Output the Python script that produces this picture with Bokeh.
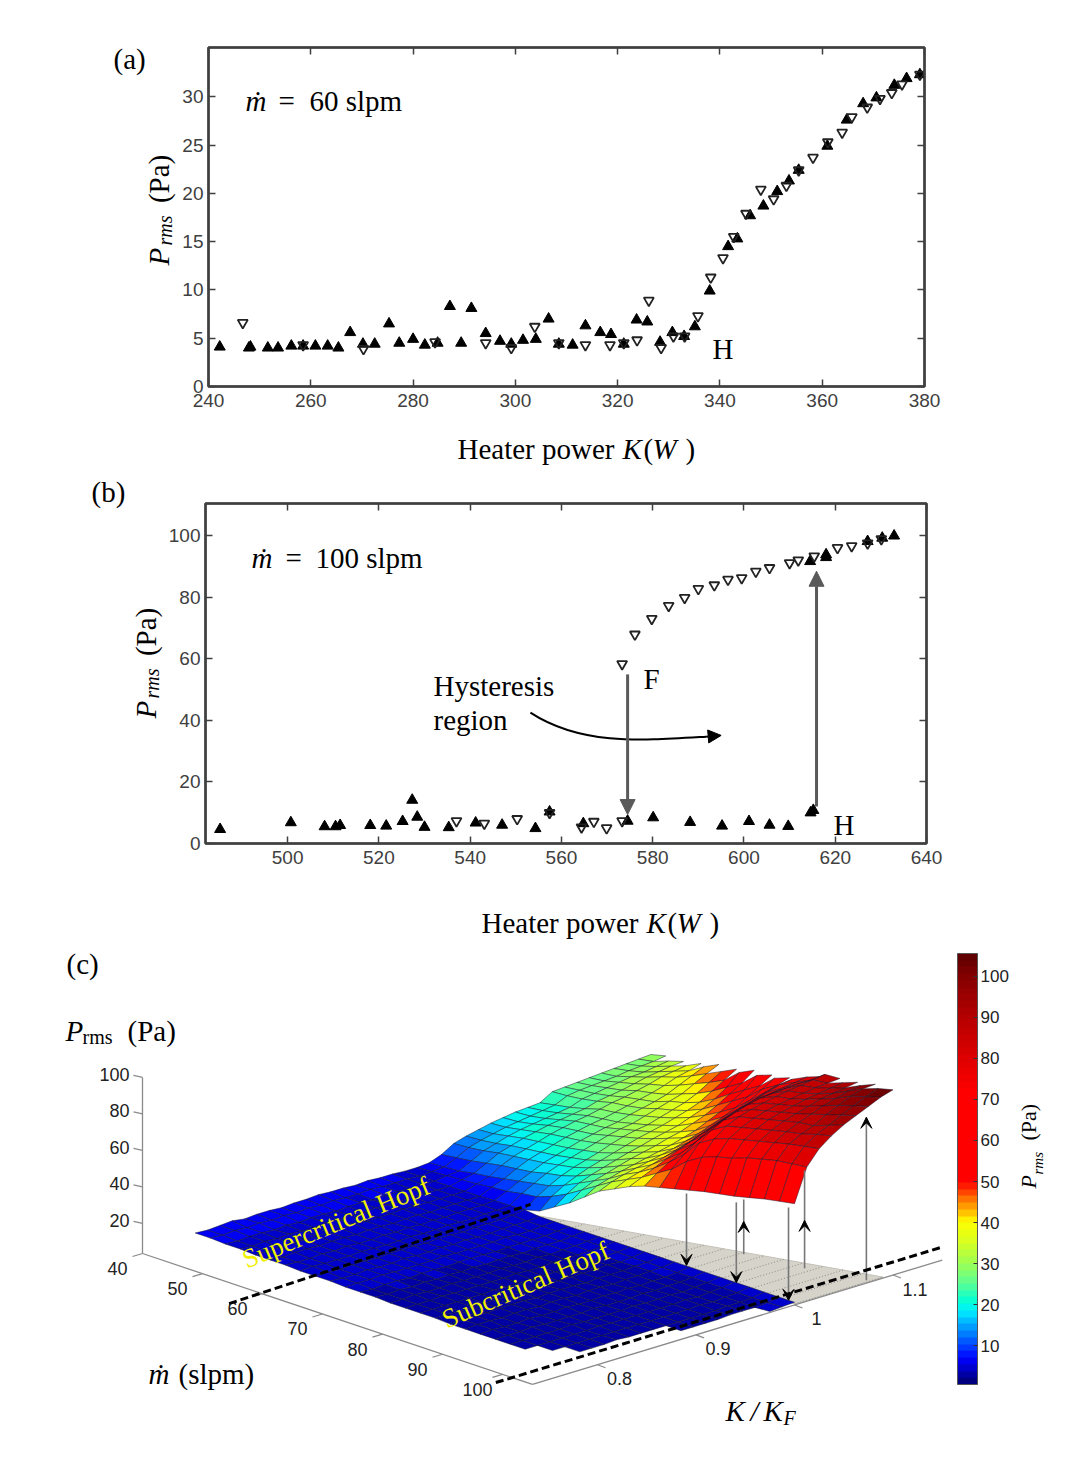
import numpy as np
from math import pi
from bokeh.plotting import figure, ColumnDataSource
from bokeh.models import (Range1d, LinearAxis, FixedTicker, Label, Arrow, NormalHead, VeeHead,
                          ColorBar, LinearColorMapper, CustomJSTickFormatter)
from bokeh.layouts import column
from bokeh.core.properties import value
from bokeh.transform import transform
from bokeh.embed import file_html
from bokeh.resources import INLINE

SERIF = "Liberation Serif"
SANS = "Liberation Sans"
PAGE_W, PAGE_H = 1091, 1470

# (a) 60 slpm
a_up_K = [242.2, 247.9, 248.2, 251.6, 253.6, 256.2, 258.5, 260.9, 263.3, 265.4, 267.7, 270.2, 272.5, 275.3, 277.3,
          280, 282.3, 284.8, 287.2, 289.4, 291.4, 294.2, 297, 299.2, 301.5, 304, 306.5, 308.5, 311.2, 313.7, 316.6,
          318.7, 321.2, 323.7, 325.8, 328.3, 330.7, 333, 335.1, 338, 341.6, 343.4, 345.9, 348.5, 351.2, 353.5,
          355.4, 361, 364.8, 368, 370.6, 374.1, 376.5, 379.1]
a_up_P = [4.1, 4.0, 4.1, 4.0, 4.0, 4.2, 4.2, 4.2, 4.2, 4.0, 5.6, 4.4, 4.4, 6.5, 4.5,
          4.9, 4.3, 4.5, 8.3, 4.5, 8.1, 5.5, 4.7, 4.4, 4.8, 4.9, 7.0, 4.4, 4.3, 6.3, 5.6,
          5.4, 4.4, 6.9, 6.7, 4.6, 5.6, 5.2, 6.2, 9.9, 14.5, 15.3, 17.7, 18.7, 20.2, 21.3,
          22.4, 24.9, 27.6, 29.3, 29.9, 31.2, 31.9, 32.3]
a_down_K = [246.7, 258.5, 270.3, 284.3, 294.2, 299.2, 303.8, 308.5, 313.7, 318.5, 321.2, 323.8, 326.1, 328.5, 330.9,
            333.1, 335.7, 338.2, 340.6, 342.7, 345.1, 348, 350.5, 353, 355.4, 358.2, 361.1, 363.9, 365.8, 368.8,
            371.3, 373.6, 375.6, 379.1]
a_down_P = [6.6, 4.3, 3.9, 4.6, 4.5, 4.0, 6.2, 4.5, 4.3, 4.3, 4.5, 4.8, 8.9, 4.0, 5.2,
            5.2, 7.3, 11.3, 13.3, 15.5, 17.9, 20.4, 19.4, 20.8, 22.4, 23.7, 25.3, 26.3, 27.9, 28.9,
            29.8, 30.4, 31.3, 32.3]
a_x_ticks = [240, 260, 280, 300, 320, 340, 360, 380]
a_y_ticks = [0, 5, 10, 15, 20, 25, 30]

# (b) 100 slpm
b_up_K = [485.2, 500.7, 508.1, 510.5, 511.5, 518.1, 521.6, 525.2, 527.3, 528.4, 530, 535.3, 541.2, 547, 554.3, 557.4,
          564.8, 574.5, 580.1, 588.2, 595.2, 601.1, 605.6, 609.7, 614.6, 615.2, 618, 618, 614.5, 627.1, 630.3, 632.9]
b_up_P = [4.6, 6.8, 5.5, 5.5, 5.9, 5.9, 5.7, 7.2, 14.1, 8.6, 5.3, 5.2, 6.7, 6.0, 4.9, 10.3,
          6.5, 7.3, 8.4, 6.9, 5.7, 7.2, 6.0, 5.6, 10.0, 10.8, 93.8, 92.9, 91.6, 98.1, 99.2, 99.9]
b_down_K = [537, 543.1, 550.3, 557.4, 564.4, 567.1, 569.9, 573.3, 573.3, 576.1, 579.8, 583.5, 587, 590, 593.5, 596.5,
            599.5, 602.6, 605.6, 610, 611.9, 615.4, 620.5, 623.6, 627.1, 630.1]
b_down_P = [7.3, 6.5, 8.0, 10.0, 5.3, 7.1, 5.0, 7.3, 58.3, 67.9, 73, 77.2, 79.8, 82.7, 83.9, 85.7,
            86.2, 88.3, 89.5, 91.1, 92, 93.3, 96, 96.6, 97.5, 98.9]
b_x_ticks = [500, 520, 540, 560, 580, 600, 620, 640]
b_y_ticks = [0, 20, 40, 60, 80, 100]

# (c) surface, rows are slpm, columns are K/KF
m_rows = [40, 42.5, 45, 47.5, 50, 52.5, 55, 57.5, 60, 62.5, 65, 67.5, 70, 72.5, 75, 77.5, 80, 82.5, 85, 87.5, 90, 92.5,
          95, 97.5, 100, 102.5, 105]
k_step = 0.0125
lower_k0 = 0.775
lower_start = [0, 1, 0, 1, 1, 0, 1, 0, 1, 0, 1, 1, 0, 1, 0, 1, 1, 0, 1, 0, 1, 1, 0, 2, 3, 10, 16]
lower_z = [
    [6, 6, 5.5, 6, 6.5, 5.5, 6, 6, 5.5, 6, 6, 6.5, 6, 6, 5.5, 6, 5.5, 5.5, 5],
    [6, 5.5, 6, 5.5, 6, 5.5, 6, 5.5, 6, 5.5, 6, 5.5, 5.5, 6, 5.5, 5.5, 5.5, 5],
    [5.5, 5.5, 5, 5.5, 5.5, 5, 5.5, 5, 5.5, 5.5, 5, 5.5, 5.5, 5, 5.5, 5.5, 5, 5.5, 5],
    [5.5, 5, 5.5, 5, 5.5, 5, 5, 5.5, 5, 5.5, 5, 5.5, 5, 5, 5.5, 5, 5, 5],
    [5, 5, 5, 5.5, 5, 5, 5, 5, 5.5, 5, 5, 5, 5.5, 5, 5, 5, 5, 5],
    [5, 5, 4.5, 5, 5, 4.5, 5, 5, 4.5, 5, 5, 4.5, 5, 5, 4.5, 5, 5, 5, 5],
    [5, 4.5, 4.5, 5, 4.5, 5, 4.5, 4.5, 5, 4.5, 5, 4.5, 5, 4.5, 5, 5, 5, 5.5],
    [4.5, 4.5, 5, 4.5, 4.5, 4.5, 5, 4.5, 4.5, 4.5, 5, 4.5, 4.5, 5, 4.5, 4.5, 5, 5, 5.5],
    [4.5, 4.5, 4, 4.5, 4.5, 4, 4.5, 4.5, 4.5, 4, 4.5, 4.5, 4, 4.5, 4.5, 4.5, 5, 6],
    [4, 4.5, 4, 4, 4.5, 4, 4, 4.5, 4, 4, 4.5, 4, 4.5, 4, 4, 4.5, 4.5, 4.5, 5],
    [4, 4, 4, 4.5, 4, 4, 4, 4, 4.5, 4, 4, 4, 4, 4.5, 4, 4, 4.5, 5],
    [4, 3.5, 4, 4, 3.5, 4, 4, 3.5, 4, 4, 4, 3.5, 4, 4, 4, 4, 4.5, 5],
    [3.5, 4, 3.5, 4, 3.5, 4, 3.5, 4, 3.5, 4, 3.5, 4, 4, 3.5, 4, 4, 4, 4.5, 5],
    [3.5, 3.5, 4, 3.5, 3.5, 4, 3.5, 3.5, 3.5, 4, 3.5, 3.5, 4, 3.5, 4, 4, 4.5, 5],
    [3.5, 3.5, 3.5, 3.5, 4, 3.5, 3.5, 3.5, 3.5, 3.5, 4, 3.5, 3.5, 4, 3.5, 4, 4, 4.5, 5],
    [3.5, 3.5, 3.5, 3.5, 3.5, 3.5, 4, 3.5, 3.5, 3.5, 3.5, 3.5, 4, 3.5, 3.5, 4, 4, 5],
    [3.5, 3.5, 3, 3.5, 3.5, 3.5, 3.5, 3.5, 3.5, 3, 3.5, 3.5, 3.5, 3.5, 4, 3.5, 4, 5],
    [3.5, 3, 3.5, 3.5, 3, 3.5, 3.5, 3.5, 3, 3.5, 3.5, 3.5, 3, 3.5, 3.5, 3.5, 4, 4, 5],
    [3, 3.5, 3.5, 3, 3.5, 3.5, 3, 3.5, 3.5, 3, 3.5, 3.5, 3, 3.5, 3.5, 4, 4, 5],
    [3, 3, 3.5, 3, 3, 3.5, 3, 3, 3.5, 3, 3, 3.5, 3, 3.5, 3, 3.5, 3.5, 4, 5],
    [3, 3, 3, 3.5, 3, 3, 3, 3, 3.5, 3, 3, 3, 3.5, 3, 3.5, 3.5, 4, 5],
    [3, 3, 3, 3, 3, 3.5, 3, 3, 3, 3, 3.5, 3, 3, 3.5, 3, 3.5, 4, 5],
    [3.5, 3, 3, 3, 3, 3, 3, 3.5, 3, 3, 3, 3, 3, 3, 3.5, 3, 3.5, 4, 5],
    [3, 3, 3, 3, 3, 3, 3, 3, 3, 3, 3, 3, 3.5, 3, 3.5, 4, 5],
    [3, 3, 3, 3.5, 3, 3, 3, 3, 3, 3, 3, 3, 3.5, 3.5, 4, 5],
    [3, 3, 3, 3, 3.5, 3.5, 3.5, 4, 5],
    [4, 4.5, 5],
]
upper_k0 = 1.0
upper_z = [
    [5, 5, 5.5, 8, 12, 14, 15.5, 17, 18, 19, 19.5, 20, 24, 24.5, 25, 25.5, 26, 26.5, 27, 27.5, 28],
    [5, 5.5, 6, 9, 12.5, 14.5, 16, 17.5, 18.5, 19.5, 20.5, 21.5, 24.5, 25.5, 26, 26.5, 27, 28, 28.5, 29, 30],
    [5, 6, 6.5, 10, 13.5, 15.5, 17.5, 19, 20, 21, 22, 23, 25.5, 26.5, 27.5, 28.5, 29.5, 30, 31, 32],
    [5, 6.5, 8, 11.5, 15, 17, 19, 20.5, 22, 23, 24, 25, 27, 28, 29, 30.5, 32, 33, 34, 34.5],
    [5, 7, 9, 13, 16, 18, 20, 22, 23.5, 25, 26, 27.5, 29, 30, 31.5, 33, 35, 36, 37],
    [5, 8, 10.5, 14, 17, 19, 21, 23, 24.5, 26, 27, 28.5, 30, 31.5, 33, 35, 37.5, 39, 41],
    [5.5, 8.5, 12, 15, 18, 20, 22, 24, 25.5, 27, 28, 30, 31.5, 33, 35, 38, 41, 44],
    [5.5, 10, 13.5, 17, 19.5, 21.5, 23.5, 25.5, 27.5, 29, 30, 32, 34, 36, 38, 41.5, 45, 48],
    [6, 11, 15, 18.5, 21, 23, 25, 27.5, 29.5, 31, 32, 34, 36, 38, 41, 45, 49],
    [8, 14, 18, 21, 23.5, 25.5, 27.5, 29.5, 31.5, 33, 34.5, 36.5, 38.5, 41, 45, 49, 53],
    [13, 18, 22, 24.5, 26.5, 28.5, 30.5, 32, 34, 35.5, 37, 39.5, 42, 45.5, 50, 56],
    [18, 23, 26, 28, 30, 32, 33.5, 35, 37, 38.5, 41, 43.5, 47, 51, 55, 60],
    [24, 28, 30, 32, 33.5, 35, 36.5, 38, 40, 42, 45, 48, 52, 56, 62],
    [30, 33, 35, 36.5, 38, 39.5, 41, 43, 45, 47.5, 50, 53, 57, 61, 65],
    [34, 37, 39, 41, 43, 45, 47, 49.5, 52, 54.5, 57, 60, 64, 68],
    [38, 41, 44, 47, 50, 52.5, 55, 57.5, 60, 62, 64.5, 67, 69, 71],
    [41, 46, 50, 53, 56, 59, 62, 65, 68, 70, 72, 74, 75],
    [43, 51, 57, 62, 66, 69, 71, 73, 74.5, 76, 77, 78, 79],
    [45, 58, 66, 71, 74.5, 77, 79, 80.5, 81, 81.5, 82, 82, 82],
    [47, 63, 71, 76, 79, 81, 82.5, 84, 85, 86, 87, 88],
    [49, 66, 74, 78, 81, 83, 84.5, 85.5, 86.5, 87.5, 88, 88.5],
    [50.5, 68, 76, 80, 83, 85, 86.5, 88, 89, 90, 91],
    [52, 71, 78, 82, 85, 87, 89, 91, 92, 93, 94],
    [54, 73, 80, 84, 87, 89.5, 92, 94, 96, 97],
    [56, 75, 82, 85.5, 88, 92, 95, 98, 100, 100.5],
    [57.5, 76, 83.5, 88, 91, 94.5, 97.5, 100.5, 103],
    [59, 77, 85, 90, 94, 97, 100, 103, 105],
]

# grey floor under the fold
floor_m = [60, 105, 105]
floor_k = [1.0, 1.0, 1.09]
floor_z = 4
dot_m = [62.5, 65, 67.5, 70, 72.5, 75, 77.5, 80, 82.5, 85, 87.5, 90, 92.5, 95, 97.5, 100, 102.5, 105]
dot_k_end = [1.005, 1.01, 1.015, 1.02, 1.025, 1.03, 1.035, 1.04, 1.045, 1.05, 1.055, 1.06, 1.065, 1.07, 1.075, 1.08,
             1.085, 1.09]

# jump arrows on the surface
jump_m = [87, 95.3, 88, 104, 96.5, 104.5]
jump_k = [1.0, 1.0, 1.052, 1.0, 1.062, 1.076]
jump_low = [5.3, 5, 4, 4.9, 4, 4]
jump_high = [44.7, 49, 34, 55.8, 57.7, 93.3]
jump_tip = [5.3, 5, 22, 4.9, 30.3, 93.3]
jump_dir = [-1, -1, 1, -1, 1, 1]

# dashed lines
dash1_m = [61, 61]
dash1_k = [0.694, 1.0]
dash1_z = [5.8, 10]
dash2_m = [101.6, 101.6]
dash2_k = [0.7175, 1.169]
dash2_z = [3.5, 3.5]

z_ticks = [20, 40, 60, 80, 100]
m_ticks = [40, 50, 60, 70, 80, 90, 100]
k_ticks = [0.8, 0.9, 1, 1.1]
k_tick_labels = ["0.8", "0.9", "1", "1.1"]
cbar_ticks = [10, 20, 30, 40, 50, 60, 70, 80, 90, 100]
cbar_low, cbar_high = 0.5, 105.6

# colours of the colour bar
cmap_z = [0.5, 3, 6, 10, 14, 18, 20, 25, 30, 35, 40, 42, 45, 48, 50, 72, 80, 90, 100, 105.6]
cmap_hex = ["#000080", "#0000b8", "#0000ff", "#0050ff", "#00a0ff", "#00f0ff", "#00ffd8", "#60ff90", "#a0ff50", "#d8ff20",
            "#ffff00", "#ffc800", "#ff8000", "#ff3000", "#ff0000", "#ff0000", "#e00000", "#b80000", "#880000", "#600000"]


def make_palette(n=64):
    rgb = np.array([[int(h[i:i + 2], 16) for i in (1, 3, 5)] for h in cmap_hex], dtype=float)
    zz = np.linspace(cbar_low, cbar_high, n)
    out = []
    for z in zz:
        out.append("#%02x%02x%02x" % tuple(int(round(np.interp(z, cmap_z, rgb[:, c]))) for c in range(3)))
    return out


# the 3D view of panel (c): page pixels per axis unit
def project(m, k, z):
    dm = np.asarray(m, dtype=float) - 40
    dk = np.asarray(k, dtype=float) - 0.734
    dz = np.asarray(z, dtype=float) - 3.5
    return 142 + 6.0 * dm + 985 * dk, 1253 + 2.015 * dm - 299 * dk - 1.825 * dz


# page sized top layer, its frame is in page pixels so texts outside the panels are not clipped
top = figure(width=PAGE_W, height=PAGE_H, x_range=Range1d(0, PAGE_W), y_range=Range1d(PAGE_H, 0),
             toolbar_location=None, tools="", output_backend="svg", min_border=0, outline_line_color=None,
             x_axis_location=None, y_axis_location=None, background_fill_color=None, border_fill_color=None,
             frame_align=False)
top.grid.visible = False


def note(x, y, text, size=29, style="normal", font=SERIF, angle=0, color="black", align="left"):
    top.add_layout(Label(x=x, y=PAGE_H - y, x_units="screen", y_units="screen", text=text,
                         text_font=font, text_font_size="%dpx" % size, text_font_style=style, text_color=color,
                         angle=angle, text_align=align, text_baseline="alphabetic"))


def panel(height, b_top, b_bottom, left, right, xr, yr, xt, yt):
    p = figure(width=PAGE_W, height=height, x_range=xr, y_range=yr, toolbar_location=None, tools="",
               output_backend="svg", min_border_top=b_top, min_border_bottom=b_bottom,
               min_border_left=left, min_border_right=right, frame_align=False)
    p.grid.visible = False
    p.outline_line_color = "#404040"
    p.outline_line_width = 2.5
    blank = CustomJSTickFormatter(code="return ''")
    p.add_layout(LinearAxis(formatter=blank, major_label_standoff=0), "above")
    p.add_layout(LinearAxis(formatter=blank, major_label_standoff=0), "right")
    for ax in p.xaxis:
        ax.ticker = FixedTicker(ticks=xt)
    for ax in p.yaxis:
        ax.ticker = FixedTicker(ticks=yt)
    for ax in p.axis:
        ax.major_tick_in = 7
        ax.major_tick_out = 0
        ax.minor_tick_line_color = None
        ax.major_tick_line_color = "#404040"
        ax.major_tick_line_width = 1.5
        ax.axis_line_color = "#404040"
        ax.axis_line_width = 2
        ax.major_label_text_font = SANS
        ax.major_label_text_font_size = "19px"
        ax.major_label_text_color = "#404040"
    p.below[0].major_label_standoff = 7
    p.left[0].major_label_standoff = 5
    return p


def markers(p, up_x, up_y, down_x, down_y):
    p.scatter(up_x, up_y, marker="triangle", size=11, color="black")
    p.scatter(down_x, down_y, marker="inverted_triangle", size=10, fill_color=None, line_color="#222222", line_width=1.8)


def prms_vertical(x, y, size=29, sub=20, gap=20, sub_w=36, sub_dx=6):
    note(x, y, "P", size=size, style="italic", angle=pi / 2)
    note(x + sub_dx, y - gap, "rms", size=sub, style="italic", angle=pi / 2)
    note(x, y - gap - sub_w - size * 0.22, "(Pa)", size=size, angle=pi / 2)


# panel (a)
pa = panel(470, 47, 84, 208, 167, Range1d(240, 380), Range1d(0, 35.1), a_x_ticks, a_y_ticks)
markers(pa, a_up_K, a_up_P, a_down_K, a_down_P)
note(113, 58, "(a)")
note(245, 100, "ṁ", style="italic")
note(278, 100, "=")
note(309, 100, "60 slpm")
note(712, 348, "H")
note(457, 448, "Heater power")
note(622, 448, "K", style="italic")
note(643, 448, "(")
note(652, 448, "W", style="italic")
note(685, 448, ")")
prms_vertical(158, 265)

# panel (b)
pb = panel(465, 33, 92, 205, 165, Range1d(482, 640), Range1d(0, 110.4), b_x_ticks, b_y_ticks)
markers(pb, b_up_K, b_up_P, b_down_K, b_down_P)

head_grey = dict(fill_color="#5a5a5a", line_color="#5a5a5a", size=15)
pb.add_layout(Arrow(end=NormalHead(**head_grey), x_start=574.5, y_start=54.9, x_end=574.5, y_end=9.4,
                    line_color="#5a5a5a", line_width=3))
pb.add_layout(Arrow(end=NormalHead(**head_grey), x_start=615.9, y_start=12, x_end=615.9, y_end=88.4,
                    line_color="#5a5a5a", line_width=3))

curve_K = [553.2, 564.3, 577.4, 591.7]
curve_P = [42.5, 31.8, 33.4, 34.7]
pb.bezier(x0=[curve_K[0]], y0=[curve_P[0]], cx0=[curve_K[1]], cy0=[curve_P[1]], cx1=[curve_K[2]], cy1=[curve_P[2]],
          x1=[curve_K[3]], y1=[curve_P[3]], line_color="black", line_width=2)
pb.add_layout(Arrow(end=NormalHead(fill_color="black", line_color="black", size=13), x_start=591.7, y_start=34.7,
                    x_end=595, y_end=35.1, line_color="black", line_width=2))

note(91, 491, "(b)")
note(251, 557, "ṁ", style="italic")
note(285, 557, "=")
note(315, 557, "100 slpm")
note(433, 685, "Hysteresis")
note(433, 719, "region")
note(643, 678, "F")
note(833, 824, "H")
note(481, 922, "Heater power")
note(646, 922, "K", style="italic")
note(667, 922, "(")
note(676, 922, "W", style="italic")
note(709, 922, ")")
prms_vertical(145, 718)

# panel (c)
mapper = LinearColorMapper(palette=make_palette(), low=cbar_low, high=cbar_high)

# floor and its dotted lines
fx, fy = project(floor_m, floor_k, [floor_z] * 3)
top.patch(list(fx), list(fy), fill_color="#d6d3cb", line_color="#c4c1b8", line_width=1)
for m, kend in zip(dot_m, dot_k_end):
    dx, dy = project([m, m], [1.0, kend], [floor_z, floor_z])
    top.line(list(dx), list(dy), line_color="#8f8c84", line_width=1, line_dash="1 2")

# surface cells, far rows first
cells = []
for i in range(len(m_rows) - 1):
    m0, m1 = m_rows[i], m_rows[i + 1]
    r0, r1 = upper_z[i], upper_z[i + 1]
    for j in range(min(len(r0), len(r1)) - 1):
        cells.append((m0, upper_k0 + j * k_step, r0[j], r0[j + 1], r1[j + 1], r1[j], m1, k_step))
    s0, s1 = lower_start[i], lower_start[i + 1]
    r0, r1 = lower_z[i], lower_z[i + 1]
    for j in range(max(s0, s1), s0 + len(r0) - 1):
        if j + 1 - s1 >= len(r1):
            continue
        cells.append((m0, lower_k0 + j * k_step, r0[j - s0], r0[j + 1 - s0], r1[j + 1 - s1], r1[j - s1], m1, k_step))
cells.sort(key=lambda c: (c[0], -c[1]))

xs, ys, zs = [], [], []
for m0, k0, z00, z01, z11, z10, m1, dk in cells:
    px, py = project([m0, m0, m1, m1], [k0, k0 + dk, k0 + dk, k0], [z00, z01, z11, z10])
    xs.append(list(px))
    ys.append(list(py))
    zs.append((z00 + z01 + z11 + z10) / 4)
surface = ColumnDataSource(dict(xs=xs, ys=ys, z=zs))
top.patches("xs", "ys", source=surface, fill_color=transform("z", mapper), line_color="#15152a", line_alpha=0.6,
            line_width=0.8)

# jump arrows
for m, k, low, high, tip, d in zip(jump_m, jump_k, jump_low, jump_high, jump_tip, jump_dir):
    lx, ly = project([m, m], [k, k], [low, high])
    top.line(list(lx), list(ly), line_color="#777777", line_width=1.6)
    hx, hy = project([m, m], [k, k], [tip - d, tip])
    top.add_layout(Arrow(end=VeeHead(size=11, fill_color="black", line_color="black", line_width=1),
                         x_start=float(hx[0]), y_start=float(hy[0]), x_end=float(hx[1]), y_end=float(hy[1]),
                         line_color="black", line_width=1))

# 3D axes
ax_x, ax_y = project([40, 40], [0.734, 0.734], [3.5, 100])
top.line(list(ax_x), list(ax_y), line_color="#8a8a8a", line_width=1.3)
ax_x, ax_y = project([40, 105], [0.734, 0.734], [3.5, 3.5])
top.line(list(ax_x), list(ax_y), line_color="#8a8a8a", line_width=1.3)
ax_x, ax_y = project([105, 105], [0.734, 1.15], [3.5, 3.5])
top.line(list(ax_x), list(ax_y), line_color="#8a8a8a", line_width=1.3)

tick_font = dict(text_font=value(SANS), text_font_size="18px", text_color="#222222", text_baseline="middle")

zx, zy = project([40] * len(z_ticks), [0.734] * len(z_ticks), z_ticks)
top.segment(zx, zy, zx - 9, zy - 2, line_color="#8a8a8a", line_width=1.2)
top.text(zx - 13, zy - 3, text=[str(t) for t in z_ticks], text_align="right", **tick_font)

mx, my = project(m_ticks, [0.734] * len(m_ticks), [3.5] * len(m_ticks))
top.segment(mx, my, mx - 10, my + 3, line_color="#8a8a8a", line_width=1.2)
top.text(mx - 25, my + 15, text=[str(t) for t in m_ticks], text_align="center", **tick_font)

kx, ky = project([105] * len(k_ticks), k_ticks, [3.5] * len(k_ticks))
top.segment(kx, ky, kx + 8, ky + 3, line_color="#8a8a8a", line_width=1.2)
top.text(kx + 22, ky + 14, text=k_tick_labels, text_align="center", **tick_font)

# dashed lines
for m_, k_, z_ in [(dash1_m, dash1_k, dash1_z), (dash2_m, dash2_k, dash2_z)]:
    lx, ly = project(m_, k_, z_)
    top.line(list(lx), list(ly), line_color="black", line_width=3, line_dash="8 4")

# colour bar
bar = ColorBar(color_mapper=mapper, ticker=FixedTicker(ticks=cbar_ticks), location=(957, PAGE_H - 1384), width=20,
               height=431, padding=0, margin=0, major_label_text_font=SANS, major_label_text_font_size="17px",
               major_label_text_color="#222222", major_tick_line_color="#333333", major_tick_in=4, major_tick_out=0,
               bar_line_color="#555555", label_standoff=3, background_fill_color=None, border_line_color=None)
top.add_layout(bar, "center")
note(1028, 1188, "P", size=22, style="italic", angle=pi / 2)
note(1037, 1174, "rms", size=15, style="italic", angle=pi / 2)
note(1028, 1140, "(Pa)", size=22, angle=pi / 2)

note(66, 963, "(c)")
note(65, 1030, "P", style="italic")
note(82, 1036, "rms", size=20)
note(127, 1030, "(Pa)")
note(148, 1373, "ṁ", style="italic")
note(178, 1373, "(slpm)")
note(725, 1410, "K", style="italic")
note(750, 1410, "/", style="italic")
note(763, 1410, "K", style="italic")
note(783, 1417, "F", size=20, style="italic")
note(243, 1260, "Supercritical  Hopf", size=27, angle=0.39, color="#f0f000")
note(443, 1320, "Subcritical  Hopf", size=27, angle=0.41, color="#f0f000")

# the top layer is pulled up over the two panels
top.margin = (-935, 0, 0, 0)
page = column(pa, pb, top)
open("out.html", "w").write(file_html(page, INLINE))
